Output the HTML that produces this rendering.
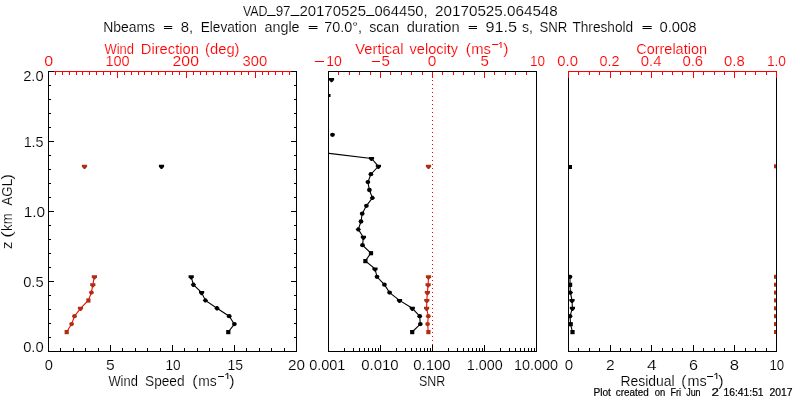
<!DOCTYPE html>
<html lang="en">
<head>
<meta charset="utf-8">
<title>VAD_97_20170525_064450</title>
<style>
html,body{margin:0;padding:0;background:#ffffff;}
body{width:800px;height:400px;overflow:hidden;font-family:"Liberation Sans",sans-serif;}
svg{display:block;}
svg text{font-family:"Liberation Sans",sans-serif;stroke:#ffffff;stroke-width:0.15px;}
svg{will-change:transform;}
</style>
</head>
<body>
<svg width="800" height="400" viewBox="0 0 800 400">
<rect x="0" y="0" width="800" height="400" fill="#ffffff"/>
<g shape-rendering="crispEdges">
<rect x="48" y="71" width="249" height="1" fill="#ff0000"/>
<rect x="48" y="72" width="1" height="6" fill="#ff0000"/>
<rect x="55" y="72" width="1" height="3" fill="#ff0000"/>
<rect x="62" y="72" width="1" height="3" fill="#ff0000"/>
<rect x="69" y="72" width="1" height="3" fill="#ff0000"/>
<rect x="76" y="72" width="1" height="3" fill="#ff0000"/>
<rect x="82" y="72" width="1" height="3" fill="#ff0000"/>
<rect x="89" y="72" width="1" height="3" fill="#ff0000"/>
<rect x="96" y="72" width="1" height="3" fill="#ff0000"/>
<rect x="103" y="72" width="1" height="3" fill="#ff0000"/>
<rect x="110" y="72" width="1" height="3" fill="#ff0000"/>
<rect x="117" y="72" width="1" height="6" fill="#ff0000"/>
<rect x="124" y="72" width="1" height="3" fill="#ff0000"/>
<rect x="131" y="72" width="1" height="3" fill="#ff0000"/>
<rect x="138" y="72" width="1" height="3" fill="#ff0000"/>
<rect x="144" y="72" width="1" height="3" fill="#ff0000"/>
<rect x="151" y="72" width="1" height="3" fill="#ff0000"/>
<rect x="158" y="72" width="1" height="3" fill="#ff0000"/>
<rect x="165" y="72" width="1" height="3" fill="#ff0000"/>
<rect x="172" y="72" width="1" height="3" fill="#ff0000"/>
<rect x="179" y="72" width="1" height="3" fill="#ff0000"/>
<rect x="186" y="72" width="1" height="6" fill="#ff0000"/>
<rect x="193" y="72" width="1" height="3" fill="#ff0000"/>
<rect x="200" y="72" width="1" height="3" fill="#ff0000"/>
<rect x="206" y="72" width="1" height="3" fill="#ff0000"/>
<rect x="213" y="72" width="1" height="3" fill="#ff0000"/>
<rect x="220" y="72" width="1" height="3" fill="#ff0000"/>
<rect x="227" y="72" width="1" height="3" fill="#ff0000"/>
<rect x="234" y="72" width="1" height="3" fill="#ff0000"/>
<rect x="241" y="72" width="1" height="3" fill="#ff0000"/>
<rect x="248" y="72" width="1" height="3" fill="#ff0000"/>
<rect x="255" y="72" width="1" height="6" fill="#ff0000"/>
<rect x="262" y="72" width="1" height="3" fill="#ff0000"/>
<rect x="268" y="72" width="1" height="3" fill="#ff0000"/>
<rect x="275" y="72" width="1" height="3" fill="#ff0000"/>
<rect x="282" y="72" width="1" height="3" fill="#ff0000"/>
<rect x="289" y="72" width="1" height="3" fill="#ff0000"/>
<rect x="296" y="72" width="1" height="3" fill="#ff0000"/>
<rect x="48" y="351" width="249" height="1" fill="#000000"/>
<rect x="48" y="345" width="1" height="6" fill="#000000"/>
<rect x="60" y="348" width="1" height="3" fill="#000000"/>
<rect x="73" y="348" width="1" height="3" fill="#000000"/>
<rect x="85" y="348" width="1" height="3" fill="#000000"/>
<rect x="98" y="348" width="1" height="3" fill="#000000"/>
<rect x="110" y="345" width="1" height="6" fill="#000000"/>
<rect x="122" y="348" width="1" height="3" fill="#000000"/>
<rect x="135" y="348" width="1" height="3" fill="#000000"/>
<rect x="147" y="348" width="1" height="3" fill="#000000"/>
<rect x="160" y="348" width="1" height="3" fill="#000000"/>
<rect x="172" y="345" width="1" height="6" fill="#000000"/>
<rect x="184" y="348" width="1" height="3" fill="#000000"/>
<rect x="197" y="348" width="1" height="3" fill="#000000"/>
<rect x="209" y="348" width="1" height="3" fill="#000000"/>
<rect x="222" y="348" width="1" height="3" fill="#000000"/>
<rect x="234" y="345" width="1" height="6" fill="#000000"/>
<rect x="246" y="348" width="1" height="3" fill="#000000"/>
<rect x="259" y="348" width="1" height="3" fill="#000000"/>
<rect x="271" y="348" width="1" height="3" fill="#000000"/>
<rect x="284" y="348" width="1" height="3" fill="#000000"/>
<rect x="296" y="345" width="1" height="6" fill="#000000"/>
<rect x="48" y="71" width="1" height="281" fill="#000000"/>
<rect x="296" y="71" width="1" height="281" fill="#000000"/>
<rect x="48" y="351" width="6" height="1" fill="#000000"/>
<rect x="291" y="351" width="6" height="1" fill="#000000"/>
<rect x="48" y="337" width="3" height="1" fill="#000000"/>
<rect x="294" y="337" width="3" height="1" fill="#000000"/>
<rect x="48" y="323" width="3" height="1" fill="#000000"/>
<rect x="294" y="323" width="3" height="1" fill="#000000"/>
<rect x="48" y="309" width="3" height="1" fill="#000000"/>
<rect x="294" y="309" width="3" height="1" fill="#000000"/>
<rect x="48" y="295" width="3" height="1" fill="#000000"/>
<rect x="294" y="295" width="3" height="1" fill="#000000"/>
<rect x="48" y="281" width="6" height="1" fill="#000000"/>
<rect x="291" y="281" width="6" height="1" fill="#000000"/>
<rect x="48" y="267" width="3" height="1" fill="#000000"/>
<rect x="294" y="267" width="3" height="1" fill="#000000"/>
<rect x="48" y="253" width="3" height="1" fill="#000000"/>
<rect x="294" y="253" width="3" height="1" fill="#000000"/>
<rect x="48" y="239" width="3" height="1" fill="#000000"/>
<rect x="294" y="239" width="3" height="1" fill="#000000"/>
<rect x="48" y="225" width="3" height="1" fill="#000000"/>
<rect x="294" y="225" width="3" height="1" fill="#000000"/>
<rect x="48" y="211" width="6" height="1" fill="#000000"/>
<rect x="291" y="211" width="6" height="1" fill="#000000"/>
<rect x="48" y="197" width="3" height="1" fill="#000000"/>
<rect x="294" y="197" width="3" height="1" fill="#000000"/>
<rect x="48" y="183" width="3" height="1" fill="#000000"/>
<rect x="294" y="183" width="3" height="1" fill="#000000"/>
<rect x="48" y="169" width="3" height="1" fill="#000000"/>
<rect x="294" y="169" width="3" height="1" fill="#000000"/>
<rect x="48" y="155" width="3" height="1" fill="#000000"/>
<rect x="294" y="155" width="3" height="1" fill="#000000"/>
<rect x="48" y="141" width="6" height="1" fill="#000000"/>
<rect x="291" y="141" width="6" height="1" fill="#000000"/>
<rect x="48" y="127" width="3" height="1" fill="#000000"/>
<rect x="294" y="127" width="3" height="1" fill="#000000"/>
<rect x="48" y="113" width="3" height="1" fill="#000000"/>
<rect x="294" y="113" width="3" height="1" fill="#000000"/>
<rect x="48" y="99" width="3" height="1" fill="#000000"/>
<rect x="294" y="99" width="3" height="1" fill="#000000"/>
<rect x="48" y="85" width="3" height="1" fill="#000000"/>
<rect x="294" y="85" width="3" height="1" fill="#000000"/>
<rect x="48" y="71" width="6" height="1" fill="#000000"/>
<rect x="291" y="71" width="6" height="1" fill="#000000"/>
<rect x="328" y="72" width="1" height="6" fill="#ff0000"/>
<rect x="338" y="72" width="1" height="3" fill="#ff0000"/>
<rect x="349" y="72" width="1" height="3" fill="#ff0000"/>
<rect x="359" y="72" width="1" height="3" fill="#ff0000"/>
<rect x="370" y="72" width="1" height="3" fill="#ff0000"/>
<rect x="380" y="72" width="1" height="6" fill="#ff0000"/>
<rect x="390" y="72" width="1" height="3" fill="#ff0000"/>
<rect x="401" y="72" width="1" height="3" fill="#ff0000"/>
<rect x="411" y="72" width="1" height="3" fill="#ff0000"/>
<rect x="422" y="72" width="1" height="3" fill="#ff0000"/>
<rect x="432" y="72" width="1" height="6" fill="#ff0000"/>
<rect x="442" y="72" width="1" height="3" fill="#ff0000"/>
<rect x="453" y="72" width="1" height="3" fill="#ff0000"/>
<rect x="463" y="72" width="1" height="3" fill="#ff0000"/>
<rect x="474" y="72" width="1" height="3" fill="#ff0000"/>
<rect x="484" y="72" width="1" height="6" fill="#ff0000"/>
<rect x="494" y="72" width="1" height="3" fill="#ff0000"/>
<rect x="505" y="72" width="1" height="3" fill="#ff0000"/>
<rect x="515" y="72" width="1" height="3" fill="#ff0000"/>
<rect x="526" y="72" width="1" height="3" fill="#ff0000"/>
<rect x="536" y="72" width="1" height="6" fill="#ff0000"/>
<rect x="432" y="72" width="1" height="1" fill="#ff0000"/>
<rect x="432" y="76" width="1" height="1" fill="#ff0000"/>
<rect x="432" y="80" width="1" height="1" fill="#ff0000"/>
<rect x="432" y="84" width="1" height="1" fill="#ff0000"/>
<rect x="432" y="88" width="1" height="1" fill="#ff0000"/>
<rect x="432" y="92" width="1" height="1" fill="#ff0000"/>
<rect x="432" y="96" width="1" height="1" fill="#ff0000"/>
<rect x="432" y="100" width="1" height="1" fill="#ff0000"/>
<rect x="432" y="104" width="1" height="1" fill="#ff0000"/>
<rect x="432" y="108" width="1" height="1" fill="#ff0000"/>
<rect x="432" y="112" width="1" height="1" fill="#ff0000"/>
<rect x="432" y="116" width="1" height="1" fill="#ff0000"/>
<rect x="432" y="120" width="1" height="1" fill="#ff0000"/>
<rect x="432" y="124" width="1" height="1" fill="#ff0000"/>
<rect x="432" y="128" width="1" height="1" fill="#ff0000"/>
<rect x="432" y="132" width="1" height="1" fill="#ff0000"/>
<rect x="432" y="136" width="1" height="1" fill="#ff0000"/>
<rect x="432" y="140" width="1" height="1" fill="#ff0000"/>
<rect x="432" y="144" width="1" height="1" fill="#ff0000"/>
<rect x="432" y="148" width="1" height="1" fill="#ff0000"/>
<rect x="432" y="152" width="1" height="1" fill="#ff0000"/>
<rect x="432" y="156" width="1" height="1" fill="#ff0000"/>
<rect x="432" y="160" width="1" height="1" fill="#ff0000"/>
<rect x="432" y="164" width="1" height="1" fill="#ff0000"/>
<rect x="432" y="168" width="1" height="1" fill="#ff0000"/>
<rect x="432" y="172" width="1" height="1" fill="#ff0000"/>
<rect x="432" y="176" width="1" height="1" fill="#ff0000"/>
<rect x="432" y="180" width="1" height="1" fill="#ff0000"/>
<rect x="432" y="184" width="1" height="1" fill="#ff0000"/>
<rect x="432" y="188" width="1" height="1" fill="#ff0000"/>
<rect x="432" y="192" width="1" height="1" fill="#ff0000"/>
<rect x="432" y="196" width="1" height="1" fill="#ff0000"/>
<rect x="432" y="200" width="1" height="1" fill="#ff0000"/>
<rect x="432" y="204" width="1" height="1" fill="#ff0000"/>
<rect x="432" y="208" width="1" height="1" fill="#ff0000"/>
<rect x="432" y="212" width="1" height="1" fill="#ff0000"/>
<rect x="432" y="216" width="1" height="1" fill="#ff0000"/>
<rect x="432" y="220" width="1" height="1" fill="#ff0000"/>
<rect x="432" y="224" width="1" height="1" fill="#ff0000"/>
<rect x="432" y="228" width="1" height="1" fill="#ff0000"/>
<rect x="432" y="232" width="1" height="1" fill="#ff0000"/>
<rect x="432" y="236" width="1" height="1" fill="#ff0000"/>
<rect x="432" y="240" width="1" height="1" fill="#ff0000"/>
<rect x="432" y="244" width="1" height="1" fill="#ff0000"/>
<rect x="432" y="248" width="1" height="1" fill="#ff0000"/>
<rect x="432" y="252" width="1" height="1" fill="#ff0000"/>
<rect x="432" y="256" width="1" height="1" fill="#ff0000"/>
<rect x="432" y="260" width="1" height="1" fill="#ff0000"/>
<rect x="432" y="264" width="1" height="1" fill="#ff0000"/>
<rect x="432" y="268" width="1" height="1" fill="#ff0000"/>
<rect x="432" y="272" width="1" height="1" fill="#ff0000"/>
<rect x="432" y="276" width="1" height="1" fill="#ff0000"/>
<rect x="432" y="280" width="1" height="1" fill="#ff0000"/>
<rect x="432" y="284" width="1" height="1" fill="#ff0000"/>
<rect x="432" y="288" width="1" height="1" fill="#ff0000"/>
<rect x="432" y="292" width="1" height="1" fill="#ff0000"/>
<rect x="432" y="296" width="1" height="1" fill="#ff0000"/>
<rect x="432" y="300" width="1" height="1" fill="#ff0000"/>
<rect x="432" y="304" width="1" height="1" fill="#ff0000"/>
<rect x="432" y="308" width="1" height="1" fill="#ff0000"/>
<rect x="432" y="312" width="1" height="1" fill="#ff0000"/>
<rect x="432" y="316" width="1" height="1" fill="#ff0000"/>
<rect x="432" y="320" width="1" height="1" fill="#ff0000"/>
<rect x="432" y="324" width="1" height="1" fill="#ff0000"/>
<rect x="432" y="328" width="1" height="1" fill="#ff0000"/>
<rect x="432" y="332" width="1" height="1" fill="#ff0000"/>
<rect x="432" y="336" width="1" height="1" fill="#ff0000"/>
<rect x="432" y="340" width="1" height="1" fill="#ff0000"/>
<rect x="432" y="344" width="1" height="1" fill="#ff0000"/>
<rect x="432" y="348" width="1" height="1" fill="#ff0000"/>
<rect x="328" y="71" width="209" height="1" fill="#000000"/>
<rect x="328" y="351" width="209" height="1" fill="#000000"/>
<rect x="328" y="71" width="1" height="281" fill="#000000"/>
<rect x="536" y="71" width="1" height="281" fill="#000000"/>
<rect x="328" y="345" width="1" height="6" fill="#000000"/>
<rect x="344" y="348" width="1" height="3" fill="#000000"/>
<rect x="353" y="348" width="1" height="3" fill="#000000"/>
<rect x="359" y="348" width="1" height="3" fill="#000000"/>
<rect x="364" y="348" width="1" height="3" fill="#000000"/>
<rect x="368" y="348" width="1" height="3" fill="#000000"/>
<rect x="372" y="348" width="1" height="3" fill="#000000"/>
<rect x="375" y="348" width="1" height="3" fill="#000000"/>
<rect x="378" y="348" width="1" height="3" fill="#000000"/>
<rect x="380" y="345" width="1" height="6" fill="#000000"/>
<rect x="396" y="348" width="1" height="3" fill="#000000"/>
<rect x="405" y="348" width="1" height="3" fill="#000000"/>
<rect x="411" y="348" width="1" height="3" fill="#000000"/>
<rect x="416" y="348" width="1" height="3" fill="#000000"/>
<rect x="420" y="348" width="1" height="3" fill="#000000"/>
<rect x="424" y="348" width="1" height="3" fill="#000000"/>
<rect x="427" y="348" width="1" height="3" fill="#000000"/>
<rect x="430" y="348" width="1" height="3" fill="#000000"/>
<rect x="432" y="345" width="1" height="6" fill="#000000"/>
<rect x="448" y="348" width="1" height="3" fill="#000000"/>
<rect x="457" y="348" width="1" height="3" fill="#000000"/>
<rect x="463" y="348" width="1" height="3" fill="#000000"/>
<rect x="468" y="348" width="1" height="3" fill="#000000"/>
<rect x="472" y="348" width="1" height="3" fill="#000000"/>
<rect x="476" y="348" width="1" height="3" fill="#000000"/>
<rect x="479" y="348" width="1" height="3" fill="#000000"/>
<rect x="482" y="348" width="1" height="3" fill="#000000"/>
<rect x="484" y="345" width="1" height="6" fill="#000000"/>
<rect x="500" y="348" width="1" height="3" fill="#000000"/>
<rect x="509" y="348" width="1" height="3" fill="#000000"/>
<rect x="515" y="348" width="1" height="3" fill="#000000"/>
<rect x="520" y="348" width="1" height="3" fill="#000000"/>
<rect x="524" y="348" width="1" height="3" fill="#000000"/>
<rect x="528" y="348" width="1" height="3" fill="#000000"/>
<rect x="531" y="348" width="1" height="3" fill="#000000"/>
<rect x="534" y="348" width="1" height="3" fill="#000000"/>
<rect x="536" y="345" width="1" height="6" fill="#000000"/>
<rect x="568" y="351" width="209" height="1" fill="#000000"/>
<rect x="568" y="71" width="1" height="281" fill="#000000"/>
<rect x="776" y="71" width="1" height="281" fill="#000000"/>
<rect x="568" y="345" width="1" height="6" fill="#000000"/>
<rect x="578" y="348" width="1" height="3" fill="#000000"/>
<rect x="589" y="348" width="1" height="3" fill="#000000"/>
<rect x="599" y="348" width="1" height="3" fill="#000000"/>
<rect x="610" y="345" width="1" height="6" fill="#000000"/>
<rect x="620" y="348" width="1" height="3" fill="#000000"/>
<rect x="630" y="348" width="1" height="3" fill="#000000"/>
<rect x="641" y="348" width="1" height="3" fill="#000000"/>
<rect x="651" y="345" width="1" height="6" fill="#000000"/>
<rect x="662" y="348" width="1" height="3" fill="#000000"/>
<rect x="672" y="348" width="1" height="3" fill="#000000"/>
<rect x="682" y="348" width="1" height="3" fill="#000000"/>
<rect x="693" y="345" width="1" height="6" fill="#000000"/>
<rect x="703" y="348" width="1" height="3" fill="#000000"/>
<rect x="714" y="348" width="1" height="3" fill="#000000"/>
<rect x="724" y="348" width="1" height="3" fill="#000000"/>
<rect x="734" y="345" width="1" height="6" fill="#000000"/>
<rect x="745" y="348" width="1" height="3" fill="#000000"/>
<rect x="755" y="348" width="1" height="3" fill="#000000"/>
<rect x="766" y="348" width="1" height="3" fill="#000000"/>
<rect x="776" y="345" width="1" height="6" fill="#000000"/>
<rect x="568" y="71" width="209" height="1" fill="#ff0000"/>
<rect x="568" y="72" width="1" height="6" fill="#ff0000"/>
<rect x="578" y="72" width="1" height="3" fill="#ff0000"/>
<rect x="589" y="72" width="1" height="3" fill="#ff0000"/>
<rect x="599" y="72" width="1" height="3" fill="#ff0000"/>
<rect x="610" y="72" width="1" height="6" fill="#ff0000"/>
<rect x="620" y="72" width="1" height="3" fill="#ff0000"/>
<rect x="630" y="72" width="1" height="3" fill="#ff0000"/>
<rect x="641" y="72" width="1" height="3" fill="#ff0000"/>
<rect x="651" y="72" width="1" height="6" fill="#ff0000"/>
<rect x="662" y="72" width="1" height="3" fill="#ff0000"/>
<rect x="672" y="72" width="1" height="3" fill="#ff0000"/>
<rect x="682" y="72" width="1" height="3" fill="#ff0000"/>
<rect x="693" y="72" width="1" height="6" fill="#ff0000"/>
<rect x="703" y="72" width="1" height="3" fill="#ff0000"/>
<rect x="714" y="72" width="1" height="3" fill="#ff0000"/>
<rect x="724" y="72" width="1" height="3" fill="#ff0000"/>
<rect x="734" y="72" width="1" height="6" fill="#ff0000"/>
<rect x="745" y="72" width="1" height="3" fill="#ff0000"/>
<rect x="755" y="72" width="1" height="3" fill="#ff0000"/>
<rect x="766" y="72" width="1" height="3" fill="#ff0000"/>
<rect x="776" y="72" width="1" height="6" fill="#ff0000"/>
</g>
<defs><clipPath id="c2"><rect x="329" y="72" width="207" height="279"/></clipPath><clipPath id="c3"><rect x="569" y="72" width="207" height="279"/></clipPath></defs>
<polyline points="66.6,332.0 71.6,324.1 74.5,316.2 80.5,308.3 88.3,300.4 91.4,292.6 92.8,284.7 94.4,276.8" fill="none" stroke="#ff0000" stroke-width="1.1"/>
<rect x="64.6" y="330.0" width="4.2" height="4.2" fill="#ad2e14"/>
<ellipse cx="71.6" cy="324.1" rx="2.4" ry="2.15" fill="#ad2e14"/>
<ellipse cx="74.5" cy="316.2" rx="2.4" ry="2.15" fill="#ad2e14"/>
<path d="M77.9 306.8L83.1 306.8L83.1 308.8L81.1 311.0L79.9 311.0L77.9 308.8Z" fill="#ad2e14"/>
<rect x="86.3" y="298.4" width="4.2" height="4.2" fill="#ad2e14"/>
<ellipse cx="91.4" cy="292.6" rx="2.4" ry="2.15" fill="#ad2e14"/>
<path d="M90.2 283.2L95.4 283.2L95.4 285.2L93.4 287.4L92.2 287.4L90.2 285.2Z" fill="#ad2e14"/>
<path d="M91.8 275.3L97.0 275.3L97.0 277.3L95.0 279.5L93.8 279.5L91.8 277.3Z" fill="#ad2e14"/>
<path d="M81.9 164.8L87.1 164.8L87.1 166.8L85.1 169.0L83.9 169.0L81.9 166.8Z" fill="#ad2e14"/>
<polyline points="228.2,332.0 234.4,324.1 229.2,316.2 217.0,308.3 205.4,300.4 201.6,292.6 193.4,284.7 191.2,276.8" fill="none" stroke="#000000" stroke-width="1.1"/>
<rect x="226.2" y="330.0" width="4.2" height="4.2" fill="#000000"/>
<ellipse cx="234.4" cy="324.1" rx="2.4" ry="2.15" fill="#000000"/>
<ellipse cx="229.2" cy="316.2" rx="2.4" ry="2.15" fill="#000000"/>
<path d="M214.3 308.3L216.2 306.1L217.8 306.1L219.7 308.3L217.8 310.5L216.2 310.5Z" fill="#000000"/>
<path d="M202.7 300.4L204.6 298.2L206.2 298.2L208.1 300.4L206.2 302.6L204.6 302.6Z" fill="#000000"/>
<path d="M199.0 291.1L204.2 291.1L204.2 293.1L202.2 295.3L201.0 295.3L199.0 293.1Z" fill="#000000"/>
<path d="M190.7 284.7L192.6 282.5L194.2 282.5L196.1 284.7L194.2 286.9L192.6 286.9Z" fill="#000000"/>
<path d="M188.6 275.3L193.8 275.3L193.8 277.3L191.8 279.5L190.6 279.5L188.6 277.3Z" fill="#000000"/>
<path d="M158.9 164.8L164.1 164.8L164.1 166.8L162.1 169.0L160.9 169.0L158.9 166.8Z" fill="#000000"/>
<g clip-path="url(#c2)">
<polyline points="412.1,332.0 420.3,324.1 419.7,316.2 412.3,308.3 399.5,300.4 389.6,292.6 384.4,284.7 377.0,276.8 375.0,268.9 365.3,261.0 370.9,253.1 362.5,245.2 363.4,237.3 358.3,229.4 361.0,221.5 362.2,213.7 366.4,205.8 372.4,197.9 369.4,190.0 367.9,182.1 370.9,174.2 378.4,166.3 371.5,158.4 329.0,153.4" fill="none" stroke="#000000" stroke-width="1.1"/>
<rect x="410.1" y="330.0" width="4.2" height="4.2" fill="#000000"/>
<ellipse cx="420.3" cy="324.1" rx="2.4" ry="2.15" fill="#000000"/>
<ellipse cx="419.7" cy="316.2" rx="2.4" ry="2.15" fill="#000000"/>
<path d="M409.7 306.8L414.9 306.8L414.9 308.8L412.9 311.0L411.7 311.0L409.7 308.8Z" fill="#000000"/>
<path d="M396.9 298.9L402.1 298.9L402.1 300.9L400.1 303.1L398.9 303.1L396.9 300.9Z" fill="#000000"/>
<ellipse cx="389.6" cy="292.6" rx="2.4" ry="2.15" fill="#000000"/>
<ellipse cx="384.4" cy="284.7" rx="2.4" ry="2.15" fill="#000000"/>
<ellipse cx="377.0" cy="276.8" rx="2.4" ry="2.15" fill="#000000"/>
<path d="M372.4 267.4L377.6 267.4L377.6 269.4L375.6 271.6L374.4 271.6L372.4 269.4Z" fill="#000000"/>
<rect x="363.3" y="259.0" width="4.2" height="4.2" fill="#000000"/>
<rect x="368.9" y="251.1" width="4.2" height="4.2" fill="#000000"/>
<ellipse cx="362.5" cy="245.2" rx="2.4" ry="2.15" fill="#000000"/>
<path d="M360.8 235.8L366.0 235.8L366.0 237.8L364.0 240.0L362.8 240.0L360.8 237.8Z" fill="#000000"/>
<path d="M355.6 229.4L357.5 227.2L359.1 227.2L361.0 229.4L359.1 231.6L357.5 231.6Z" fill="#000000"/>
<ellipse cx="361.0" cy="221.5" rx="2.4" ry="2.15" fill="#000000"/>
<ellipse cx="362.2" cy="213.7" rx="2.4" ry="2.15" fill="#000000"/>
<ellipse cx="366.4" cy="205.8" rx="2.4" ry="2.15" fill="#000000"/>
<path d="M369.7 197.9L371.6 195.7L373.2 195.7L375.1 197.9L373.2 200.1L371.6 200.1Z" fill="#000000"/>
<ellipse cx="369.4" cy="190.0" rx="2.4" ry="2.15" fill="#000000"/>
<ellipse cx="367.9" cy="182.1" rx="2.4" ry="2.15" fill="#000000"/>
<ellipse cx="370.9" cy="174.2" rx="2.4" ry="2.15" fill="#000000"/>
<path d="M375.8 164.8L381.0 164.8L381.0 166.8L379.0 169.0L377.8 169.0L375.8 166.8Z" fill="#000000"/>
<path d="M368.9 156.9L374.1 156.9L374.1 158.9L372.1 161.1L370.9 161.1L368.9 158.9Z" fill="#000000"/>
<ellipse cx="332.5" cy="134.8" rx="2.4" ry="2.15" fill="#000000"/>
<path d="M328.9 78.0L334.1 78.0L334.1 80.0L332.1 82.2L330.9 82.2L328.9 80.0Z" fill="#000000"/>
<rect x="329" y="94" width="1.5" height="3" fill="#000000"/>
<polyline points="428.3,332.0 427.6,324.1 428.3,316.2 426.6,308.3 426.8,300.4 427.4,292.6 428.1,284.7 428.5,276.8" fill="none" stroke="#ff0000" stroke-width="1.1"/>
<rect x="426.3" y="330.0" width="4.2" height="4.2" fill="#ad2e14"/>
<ellipse cx="427.6" cy="324.1" rx="2.4" ry="2.15" fill="#ad2e14"/>
<ellipse cx="428.3" cy="316.2" rx="2.4" ry="2.15" fill="#ad2e14"/>
<path d="M424.0 306.8L429.2 306.8L429.2 308.8L427.2 311.0L426.0 311.0L424.0 308.8Z" fill="#ad2e14"/>
<path d="M424.2 298.9L429.4 298.9L429.4 300.9L427.4 303.1L426.2 303.1L424.2 300.9Z" fill="#ad2e14"/>
<path d="M424.8 291.1L430.0 291.1L430.0 293.1L428.0 295.3L426.8 295.3L424.8 293.1Z" fill="#ad2e14"/>
<path d="M425.5 283.2L430.7 283.2L430.7 285.2L428.7 287.4L427.5 287.4L425.5 285.2Z" fill="#ad2e14"/>
<path d="M425.9 275.3L431.1 275.3L431.1 277.3L429.1 279.5L427.9 279.5L425.9 277.3Z" fill="#ad2e14"/>
<path d="M425.9 164.8L431.1 164.8L431.1 166.8L429.1 169.0L427.9 169.0L425.9 166.8Z" fill="#ad2e14"/>
</g>
<g clip-path="url(#c3)">
<polyline points="572.4,332.0 570.6,324.1 570.0,316.2 572.4,308.3 572.0,300.4 570.4,292.6 570.0,284.7 570.0,276.8" fill="none" stroke="#000000" stroke-width="1.1"/>
<rect x="570.4" y="330.0" width="4.2" height="4.2" fill="#000000"/>
<rect x="568.6" y="322.1" width="4.2" height="4.2" fill="#000000"/>
<ellipse cx="570.0" cy="316.2" rx="2.4" ry="2.15" fill="#000000"/>
<path d="M569.8 306.8L575.0 306.8L575.0 308.8L573.0 311.0L571.8 311.0L569.8 308.8Z" fill="#000000"/>
<path d="M569.4 298.9L574.6 298.9L574.6 300.9L572.6 303.1L571.4 303.1L569.4 300.9Z" fill="#000000"/>
<path d="M567.7 292.6L569.6 290.4L571.2 290.4L573.1 292.6L571.2 294.8L569.6 294.8Z" fill="#000000"/>
<rect x="568.0" y="282.7" width="4.2" height="4.2" fill="#000000"/>
<ellipse cx="570.0" cy="276.8" rx="2.4" ry="2.15" fill="#000000"/>
<rect x="568" y="165" width="4" height="4" fill="#000000"/>
<rect x="774" y="330.0" width="2" height="4" fill="#ad2e14"/>
<rect x="774" y="322.1" width="2" height="4" fill="#ad2e14"/>
<rect x="774" y="314.2" width="2" height="4" fill="#ad2e14"/>
<rect x="774" y="306.3" width="2" height="4" fill="#ad2e14"/>
<rect x="774" y="298.4" width="2" height="4" fill="#ad2e14"/>
<rect x="774" y="290.6" width="2" height="4" fill="#ad2e14"/>
<rect x="774" y="282.7" width="2" height="4" fill="#ad2e14"/>
<rect x="774" y="274.8" width="2" height="4" fill="#ad2e14"/>
<rect x="774" y="164.3" width="2" height="4" fill="#ad2e14"/>
</g>
<rect x="776" y="78" width="1" height="273" fill="#000000" shape-rendering="crispEdges"/>
<rect x="568" y="78" width="1" height="273" fill="#000000" shape-rendering="crispEdges"/>
<text x="242.90" y="16" font-size="14" fill="#000000" textLength="24.60" lengthAdjust="spacingAndGlyphs">VAD</text>
<text x="275.65" y="16" font-size="14" fill="#000000" textLength="14.95" lengthAdjust="spacingAndGlyphs">97</text>
<text x="299.40" y="16" font-size="14" fill="#000000" textLength="66.60" lengthAdjust="spacingAndGlyphs">20170525</text>
<text x="374.40" y="16" font-size="14" fill="#000000" textLength="53.20" lengthAdjust="spacingAndGlyphs">064450,</text>
<text x="435.10" y="16" font-size="14" fill="#000000" textLength="122.70" lengthAdjust="spacingAndGlyphs">20170525.064548</text>
<rect x="267" y="15" width="8.6" height="1" fill="#000000"/>
<rect x="290.6" y="15" width="8.8" height="1" fill="#000000"/>
<rect x="366.2" y="15" width="8.2" height="1" fill="#000000"/>
<text x="103.15" y="32" font-size="14" fill="#000000" textLength="51.95" lengthAdjust="spacingAndGlyphs">Nbeams</text>
<rect x="163.9" y="26" width="8.3" height="1" fill="#000000"/>
<rect x="163.9" y="28" width="8.3" height="1" fill="#000000"/>
<text x="180.65" y="32" font-size="14" fill="#000000" textLength="12.45" lengthAdjust="spacingAndGlyphs">8,</text>
<text x="200.65" y="32" font-size="14" fill="#000000" textLength="56.20" lengthAdjust="spacingAndGlyphs">Elevation</text>
<text x="264.40" y="32" font-size="14" fill="#000000" textLength="35.20" lengthAdjust="spacingAndGlyphs">angle</text>
<rect x="308.7" y="26" width="8.8" height="1" fill="#000000"/>
<rect x="308.7" y="28" width="8.8" height="1" fill="#000000"/>
<text x="324.15" y="32" font-size="14" fill="#000000" textLength="37.95" lengthAdjust="spacingAndGlyphs">70.0°,</text>
<text x="369.15" y="32" font-size="14" fill="#000000" textLength="29.95" lengthAdjust="spacingAndGlyphs">scan</text>
<text x="406.65" y="32" font-size="14" fill="#000000" textLength="52.95" lengthAdjust="spacingAndGlyphs">duration</text>
<rect x="468.7" y="26" width="8.3" height="1" fill="#000000"/>
<rect x="468.7" y="28" width="8.3" height="1" fill="#000000"/>
<text x="485.40" y="32" font-size="14" fill="#000000" textLength="31.50" lengthAdjust="spacingAndGlyphs">91.5</text>
<text x="522.00" y="32" font-size="14" fill="#000000" textLength="10.90" lengthAdjust="spacingAndGlyphs">s,</text>
<text x="539.40" y="32" font-size="14" fill="#000000" textLength="27.80" lengthAdjust="spacingAndGlyphs">SNR</text>
<text x="572.40" y="32" font-size="14" fill="#000000" textLength="60.80" lengthAdjust="spacingAndGlyphs">Threshold</text>
<rect x="642.5" y="26" width="9.2" height="1" fill="#000000"/>
<rect x="642.5" y="28" width="9.2" height="1" fill="#000000"/>
<text x="659.50" y="32" font-size="14" fill="#000000" textLength="37.00" lengthAdjust="spacingAndGlyphs">0.008</text>
<text x="104.40" y="54" font-size="14" fill="#ff0000" textLength="29.60" lengthAdjust="spacingAndGlyphs">Wind</text>
<text x="140.80" y="54" font-size="14" fill="#ff0000" textLength="58.10" lengthAdjust="spacingAndGlyphs">Direction</text>
<text x="205.10" y="54" font-size="14" fill="#ff0000" textLength="34.40" lengthAdjust="spacingAndGlyphs">(deg)</text>
<text x="355.30" y="54" font-size="14" fill="#ff0000" textLength="48.30" lengthAdjust="spacingAndGlyphs">Vertical</text>
<text x="409.60" y="54" font-size="14" fill="#ff0000" textLength="48.50" lengthAdjust="spacingAndGlyphs">velocity</text>
<text x="465.65" y="54" font-size="14" fill="#ff0000" textLength="5.15" lengthAdjust="spacingAndGlyphs">(</text>
<text x="471.30" y="54" font-size="14" fill="#ff0000" textLength="19.70" lengthAdjust="spacingAndGlyphs">ms</text>
<text x="503.30" y="54" font-size="14" fill="#ff0000" textLength="5.20" lengthAdjust="spacingAndGlyphs">)</text>
<text x="636.20" y="54" font-size="14" fill="#ff0000" textLength="70.80" lengthAdjust="spacingAndGlyphs">Correlation</text>
<text x="44.30" y="66" font-size="14" fill="#ff0000" textLength="8.90" lengthAdjust="spacingAndGlyphs">0</text>
<text x="105.40" y="66" font-size="14" fill="#ff0000" textLength="24.20" lengthAdjust="spacingAndGlyphs">100</text>
<text x="172.60" y="66" font-size="14" fill="#ff0000" textLength="26.30" lengthAdjust="spacingAndGlyphs">200</text>
<text x="242.50" y="66" font-size="14" fill="#ff0000" textLength="24.60" lengthAdjust="spacingAndGlyphs">300</text>
<text x="326.30" y="66" font-size="14" fill="#ff0000" textLength="15.60" lengthAdjust="spacingAndGlyphs">10</text>
<text x="381.50" y="66" font-size="14" fill="#ff0000" textLength="8.40" lengthAdjust="spacingAndGlyphs">5</text>
<text x="427.80" y="66" font-size="14" fill="#ff0000" textLength="8.60" lengthAdjust="spacingAndGlyphs">0</text>
<text x="480.40" y="66" font-size="14" fill="#ff0000" textLength="8.40" lengthAdjust="spacingAndGlyphs">5</text>
<text x="530.10" y="66" font-size="14" fill="#ff0000" textLength="15.00" lengthAdjust="spacingAndGlyphs">10</text>
<text x="557.30" y="66" font-size="14" fill="#ff0000" textLength="20.70" lengthAdjust="spacingAndGlyphs">0.0</text>
<text x="599.50" y="66" font-size="14" fill="#ff0000" textLength="20.10" lengthAdjust="spacingAndGlyphs">0.2</text>
<text x="640.80" y="66" font-size="14" fill="#ff0000" textLength="20.70" lengthAdjust="spacingAndGlyphs">0.4</text>
<text x="682.40" y="66" font-size="14" fill="#ff0000" textLength="20.70" lengthAdjust="spacingAndGlyphs">0.6</text>
<text x="724.00" y="66" font-size="14" fill="#ff0000" textLength="20.70" lengthAdjust="spacingAndGlyphs">0.8</text>
<text x="766.90" y="66" font-size="14" fill="#ff0000" textLength="19.10" lengthAdjust="spacingAndGlyphs">1.0</text>
<rect x="314.8" y="61" width="9.2" height="1" fill="#ff0000"/>
<rect x="371.8" y="61" width="8.2" height="1" fill="#ff0000"/>
<text x="23.15" y="81" font-size="14" fill="#000000" textLength="20.45" lengthAdjust="spacingAndGlyphs">2.0</text>
<text x="23.65" y="147" font-size="14" fill="#000000" textLength="19.95" lengthAdjust="spacingAndGlyphs">1.5</text>
<text x="23.65" y="217" font-size="14" fill="#000000" textLength="21.45" lengthAdjust="spacingAndGlyphs">1.0</text>
<text x="23.15" y="287" font-size="14" fill="#000000" textLength="20.45" lengthAdjust="spacingAndGlyphs">0.5</text>
<text x="23.15" y="352" font-size="14" fill="#000000" textLength="20.55" lengthAdjust="spacingAndGlyphs">0.0</text>
<g transform="translate(12,249) rotate(-90)">
<text x="-0.30" y="0" font-size="14" fill="#000000" textLength="7.90" lengthAdjust="spacingAndGlyphs">z</text>
<text x="10.90" y="0" font-size="14" fill="#000000" textLength="6.80" lengthAdjust="spacingAndGlyphs">(</text>
<text x="18.10" y="0" font-size="14" fill="#000000" textLength="17.60" lengthAdjust="spacingAndGlyphs">km</text>
<text x="43.50" y="0" font-size="14" fill="#000000" textLength="26.60" lengthAdjust="spacingAndGlyphs">AGL</text>
<text x="69.40" y="0" font-size="14" fill="#000000" textLength="5.40" lengthAdjust="spacingAndGlyphs">)</text>
</g>
<text x="44.65" y="370" font-size="14" fill="#000000" textLength="8.20" lengthAdjust="spacingAndGlyphs">0</text>
<text x="105.90" y="370" font-size="14" fill="#000000" textLength="8.70" lengthAdjust="spacingAndGlyphs">5</text>
<text x="165.40" y="370" font-size="14" fill="#000000" textLength="15.20" lengthAdjust="spacingAndGlyphs">10</text>
<text x="227.40" y="370" font-size="14" fill="#000000" textLength="15.50" lengthAdjust="spacingAndGlyphs">15</text>
<text x="287.90" y="370" font-size="14" fill="#000000" textLength="17.00" lengthAdjust="spacingAndGlyphs">20</text>
<text x="309.15" y="370" font-size="14" fill="#000000" textLength="36.30" lengthAdjust="spacingAndGlyphs">0.001</text>
<text x="361.15" y="370" font-size="14" fill="#000000" textLength="37.55" lengthAdjust="spacingAndGlyphs">0.010</text>
<text x="413.15" y="370" font-size="14" fill="#000000" textLength="37.55" lengthAdjust="spacingAndGlyphs">0.100</text>
<text x="466.80" y="370" font-size="14" fill="#000000" textLength="35.90" lengthAdjust="spacingAndGlyphs">1.000</text>
<text x="513.90" y="370" font-size="14" fill="#000000" textLength="44.10" lengthAdjust="spacingAndGlyphs">10.000</text>
<text x="564.80" y="370" font-size="14" fill="#000000" textLength="8.40" lengthAdjust="spacingAndGlyphs">0</text>
<text x="605.90" y="370" font-size="14" fill="#000000" textLength="8.70" lengthAdjust="spacingAndGlyphs">2</text>
<text x="647.00" y="370" font-size="14" fill="#000000" textLength="9.60" lengthAdjust="spacingAndGlyphs">4</text>
<text x="689.00" y="370" font-size="14" fill="#000000" textLength="9.00" lengthAdjust="spacingAndGlyphs">6</text>
<text x="729.80" y="370" font-size="14" fill="#000000" textLength="9.30" lengthAdjust="spacingAndGlyphs">8</text>
<text x="769.40" y="370" font-size="14" fill="#000000" textLength="14.70" lengthAdjust="spacingAndGlyphs">10</text>
<text x="108.40" y="386" font-size="14" fill="#000000" textLength="29.45" lengthAdjust="spacingAndGlyphs">Wind</text>
<text x="145.00" y="386" font-size="14" fill="#000000" textLength="39.60" lengthAdjust="spacingAndGlyphs">Speed</text>
<text x="192.30" y="386" font-size="14" fill="#000000" textLength="5.40" lengthAdjust="spacingAndGlyphs">(</text>
<text x="198.30" y="386" font-size="14" fill="#000000" textLength="18.50" lengthAdjust="spacingAndGlyphs">ms</text>
<text x="229.30" y="386" font-size="14" fill="#000000" textLength="5.30" lengthAdjust="spacingAndGlyphs">)</text>
<text x="419.00" y="386" font-size="14" fill="#000000" textLength="26.20" lengthAdjust="spacingAndGlyphs">SNR</text>
<text x="620.40" y="386" font-size="14" fill="#000000" textLength="54.20" lengthAdjust="spacingAndGlyphs">Residual</text>
<text x="681.25" y="386" font-size="14" fill="#000000" textLength="5.10" lengthAdjust="spacingAndGlyphs">(</text>
<text x="687.40" y="386" font-size="14" fill="#000000" textLength="19.20" lengthAdjust="spacingAndGlyphs">ms</text>
<text x="718.15" y="386" font-size="14" fill="#000000" textLength="5.35" lengthAdjust="spacingAndGlyphs">)</text>
<rect x="492.1" y="44" width="6.2" height="1" fill="#ff0000"/>
<path d="M499.2 43.7L501.0 42.2L501.0 48.0" fill="none" stroke="#ff0000" stroke-width="1"/>
<rect x="218.1" y="376" width="5.8" height="1" fill="#000000"/>
<path d="M225.4 374.7L227.8 373.2L227.8 379.0" fill="none" stroke="#000000" stroke-width="1"/>
<rect x="707.1" y="376" width="6.0" height="1" fill="#000000"/>
<path d="M714.4 374.7L716.8 373.2L716.8 379.0" fill="none" stroke="#000000" stroke-width="1"/>
<text x="593.50" y="396" font-size="10.5" fill="#000000" textLength="17.40" lengthAdjust="spacingAndGlyphs" style="stroke:#000;stroke-width:0.2px">Plot</text>
<text x="615.80" y="396" font-size="10.5" fill="#000000" textLength="32.90" lengthAdjust="spacingAndGlyphs" style="stroke:#000;stroke-width:0.2px">created</text>
<text x="654.70" y="396" font-size="10.5" fill="#000000" textLength="10.50" lengthAdjust="spacingAndGlyphs" style="stroke:#000;stroke-width:0.2px">on</text>
<text x="670.40" y="396" font-size="10.5" fill="#000000" textLength="10.60" lengthAdjust="spacingAndGlyphs" style="stroke:#000;stroke-width:0.2px">Fri</text>
<text x="686.20" y="396" font-size="10.5" fill="#000000" textLength="14.40" lengthAdjust="spacingAndGlyphs" style="stroke:#000;stroke-width:0.2px">Jun</text>
<text x="711.60" y="396" font-size="10.5" fill="#000000" textLength="7.40" lengthAdjust="spacingAndGlyphs" style="stroke:#000;stroke-width:0.2px">2</text>
<text x="723.50" y="396" font-size="10.5" fill="#000000" textLength="40.10" lengthAdjust="spacingAndGlyphs" style="stroke:#000;stroke-width:0.2px">16:41:51</text>
<text x="769.40" y="396" font-size="10.5" fill="#000000" textLength="23.10" lengthAdjust="spacingAndGlyphs" style="stroke:#000;stroke-width:0.2px">2017</text>
</svg>
</body>
</html>
